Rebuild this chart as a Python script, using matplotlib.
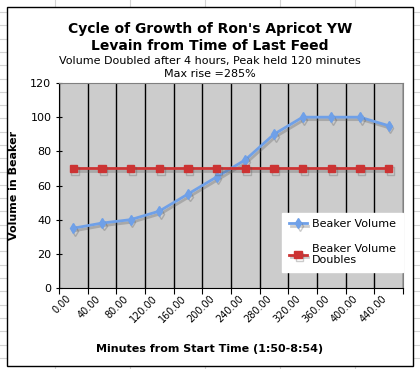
import numpy as np
import matplotlib
matplotlib.use("Agg")
import matplotlib.pyplot as plt
import matplotlib.patheffects as pe
from matplotlib.patches import Rectangle

# data
minutes = ["0.00", "40.00", "80.00", "120.00", "160.00", "200.00",
           "240.00", "280.00", "320.00", "360.00", "400.00", "440.00"]
beaker_volume = [35, 38, 40, 45, 55, 65, 75, 90, 100, 100, 100, 95]
volume_doubles = [70, 70, 70, 70, 70, 70, 70, 70, 70, 70, 70, 70]

W, H = 420, 369
fig = plt.figure(figsize=(W / 100, H / 100), dpi=100)

# spreadsheet cell grid behind the chart
for x in np.arange(55, W, 75):
    fig.add_artist(plt.Line2D([x / W, x / W], [0, 1], color="#d4d4d4", lw=0.8, zorder=0))
for y in np.arange(12, H, 13.3):
    fig.add_artist(plt.Line2D([0, 1], [1 - y / H, 1 - y / H], color="#d4d4d4", lw=0.8, zorder=0))

# chart box
fig.add_artist(Rectangle((7 / W, 1 - 366 / H), 406 / W, 359 / H, transform=fig.transFigure,
                         facecolor="white", edgecolor="black", lw=1.0, zorder=1))

left, right, top, bottom = 59, 403, 83, 288
ax = fig.add_axes([left / W, 1 - bottom / H, (right - left) / W, (bottom - top) / H])
ax.set_zorder(2)
ax.set_facecolor("#cccccc")

x = np.arange(len(minutes))
shadow = [pe.SimpleLineShadow(offset=(1.2, -1.8), shadow_color="#555555", alpha=0.3), pe.Normal()]
ax.plot(x, beaker_volume, color="#6fa0e8", lw=2, marker="d", ms=5,
        label="Beaker Volume", path_effects=shadow, zorder=4)
ax.plot(x, volume_doubles, color="#cc3333", lw=2, marker="s", ms=5.5,
        label="Beaker Volume\nDoubles", path_effects=shadow, zorder=4)

ax.set_xlim(-0.5, len(minutes) - 0.5)
ax.set_ylim(0, 120)
ax.set_yticks(range(0, 121, 20))
ax.set_xticks(np.arange(-0.5, len(minutes)), minor=False)
ax.set_xticklabels([])
ax.set_xticks(x, minor=True)
ax.set_xticklabels(minutes, minor=True, rotation=45, ha="right", va="top", fontsize=7)
ax.tick_params(axis="x", which="minor", length=0, pad=4)
ax.tick_params(axis="x", which="major", length=4, direction="out", color="black")
ax.tick_params(axis="y", length=4, direction="inout", labelsize=8)
ax.grid(axis="x", which="major", color="black", lw=1)
ax.set_axisbelow(True)
for s in ["top", "right"]:
    ax.spines[s].set_color("#808080")
ax.spines["left"].set_color("black")
ax.spines["bottom"].set_color("black")

leg = ax.legend(loc="lower right", bbox_to_anchor=(1.0, 0.078), fontsize=8, frameon=True,
                fancybox=False, framealpha=1, edgecolor="white", borderaxespad=0,
                handlelength=1.6, handletextpad=0.5, labelspacing=1.3, borderpad=0.6)

ax.set_ylabel("Volume in Beaker", fontsize=8, fontweight="bold", labelpad=8)
fig.text(210 / W, 1 - 349 / H, "Minutes from Start Time (1:50-8:54)", fontsize=8,
         fontweight="bold", ha="center", va="center")

fig.text(210 / W, 1 - 29 / H, "Cycle of Growth of Ron's Apricot YW", fontsize=10,
         fontweight="bold", ha="center", va="center")
fig.text(210 / W, 1 - 46 / H, "Levain from Time of Last Feed", fontsize=10,
         fontweight="bold", ha="center", va="center")
fig.text(210 / W, 1 - 61 / H, "Volume Doubled after 4 hours, Peak held 120 minutes",
         fontsize=8, ha="center", va="center")
fig.text(210 / W, 1 - 74 / H, "Max rise =285%", fontsize=8, ha="center", va="center")

fig.savefig("out.png", dpi=100)
